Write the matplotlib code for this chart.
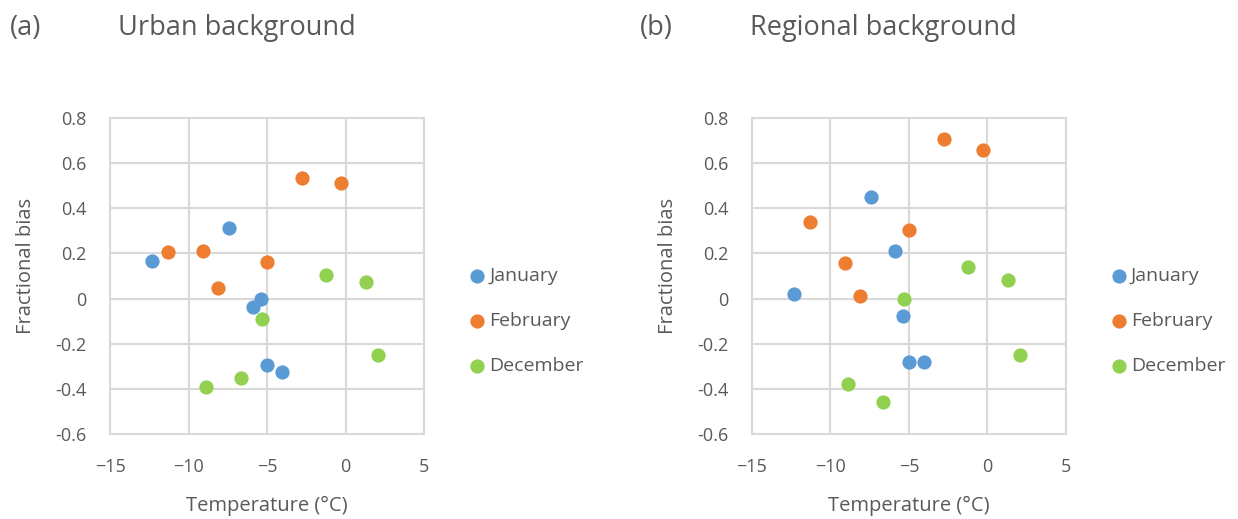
import matplotlib
matplotlib.use("Agg")
import matplotlib.pyplot as plt

plt.rcParams['font.family'] = ['Open Sans', 'DejaVu Sans']

# Temperature (°C) per month, shared by both sites
temp_jan = [-12.35, -7.4, -5.9, -5.4, -5.0, -4.05]
temp_feb = [-11.3, -9.05, -8.1, -5.0, -2.75, -0.3]
temp_dec = [-8.9, -6.65, -5.3, -1.25, 1.3, 2.1]

# Fractional bias, urban background
urban_jan = [0.166, 0.314, -0.037, 0.0, -0.293, -0.327]
urban_feb = [0.206, 0.21, 0.047, 0.161, 0.532, 0.51]
urban_dec = [-0.393, -0.352, -0.089, 0.104, 0.072, -0.249]

# Fractional bias, regional background
regional_jan = [0.018, 0.452, 0.21, -0.079, -0.283, -0.279]
regional_feb = [0.338, 0.156, 0.013, 0.304, 0.707, 0.656]
regional_dec = [-0.379, -0.459, -0.004, 0.139, 0.081, -0.249]

months = ['January', 'February', 'December']
colors = ['#5B9BD5', '#ED7D31', '#92D050']
x_ticks = [-15, -10, -5, 0, 5]
y_ticks = [0.8, 0.6, 0.4, 0.2, 0, -0.2, -0.4, -0.6]

grid_col = '#d9d9d9'
text_col = '#595959'

fig = plt.figure(figsize=(12.38, 5.19), dpi=100)

# (tag, title, axes left, tag x, title x, series)
panels = [
    ('(a)', 'Urban background', 0.0889, 0.008, 0.0953, [urban_jan, urban_feb, urban_dec]),
    ('(b)', 'Regional background', 0.6074, 0.517, 0.6058, [regional_jan, regional_feb, regional_dec]),
]

for tag, title, left, tx, ttx, series in panels:
    ax = fig.add_axes([left, 0.1638, 0.2536, 0.6089])
    for temps, vals, name, c in zip([temp_jan, temp_feb, temp_dec], series, months, colors):
        ax.scatter(temps, vals, s=105, color=c, label=name, zorder=3, linewidths=0)
    ax.set_xlim(-15, 5)
    ax.set_ylim(-0.6, 0.8)
    ax.set_xticks(x_ticks)
    ax.set_yticks(y_ticks)
    ax.set_yticklabels(['0' if v == 0 else f'{v:g}' for v in y_ticks])
    ax.grid(True, color=grid_col, linewidth=1.5, zorder=0)
    ax.set_axisbelow(True)
    for sp in ax.spines.values():
        sp.set_color(grid_col)
        sp.set_linewidth(1.5)
    ax.tick_params(length=0, labelsize=13, colors=text_col)
    ax.tick_params(axis='x', pad=17.5)
    ax.tick_params(axis='y', pad=17)
    ax.set_xlabel('Temperature (°C)', fontsize=14.5, color=text_col, labelpad=14)
    ax.set_ylabel('Fractional bias', fontsize=14.5, color=text_col)
    ax.yaxis.set_label_coords(-0.235, 0.532)
    ax.legend(loc='center left', bbox_to_anchor=(1.108, 0.358), frameon=False,
              fontsize=14, labelspacing=1.4, handletextpad=0.1, borderpad=0,
              markerscale=1.0, labelcolor=text_col, handlelength=1.0)
    fig.text(tx, 0.946, tag, fontsize=19.5, color=text_col, va='center')
    fig.text(ttx, 0.946, title, fontsize=19.5, color=text_col, va='center')

fig.savefig('out.png', dpi=100)
